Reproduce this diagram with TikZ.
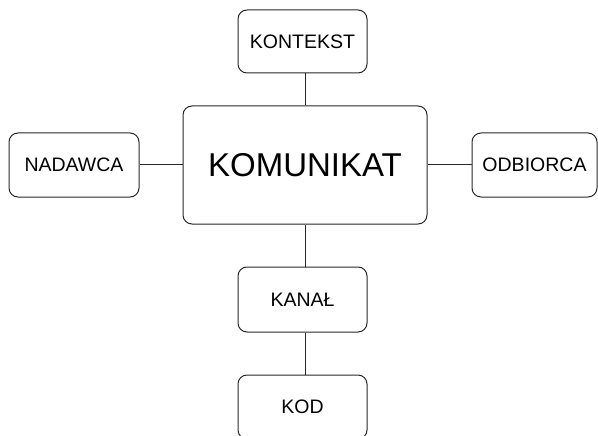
\documentclass[tikz,border=0pt]{standalone}
\usepackage{fontspec}
\setmainfont{Liberation Sans}
\definecolor{ln}{RGB}{40, 40, 40}
\usetikzlibrary{positioning}

\begin{document}
\begin{tikzpicture}[box/.style={rectangle, rounded corners=9pt, draw=ln, line width=1pt, fill=white, inner sep=0pt, font=\fontsize{19.5}{22}\selectfont}]
\useasboundingbox (0pt, 0pt) rectangle (598pt, -436pt);
\node (komunikat) [box, minimum width=244pt, minimum height=118pt, font=\fontsize{33}{38}\selectfont] at (305.0pt, -165.0pt) {KOMUNIKAT};
\node (kontekst) [box, minimum width=129pt, minimum height=63pt] at (302.5pt, -41.5pt) {KONTEKST};
\node (nadawca) [box, minimum width=130pt, minimum height=64pt] at (74.0pt, -165.0pt) {NADAWCA};
\node (odbiorca) [box, minimum width=125pt, minimum height=64pt] at (534.5pt, -165.0pt) {ODBIORCA};
\node (kanal) [box, minimum width=129pt, minimum height=65pt] at (302.5pt, -299.5pt) {KANAŁ};
\node (kod) [box, minimum width=129pt, minimum height=64pt] at (302.5pt, -407.0pt) {KOD};
\draw [line width=1pt, color=ln] (komunikat.north) to (komunikat.north |- kontekst.south);
\draw [line width=1pt, color=ln] (komunikat.west) to (nadawca.east);
\draw [line width=1pt, color=ln] (komunikat.east) to (odbiorca.west);
\draw [line width=1pt, color=ln] (komunikat.south) to (komunikat.south |- kanal.north);
\draw [line width=1pt, color=ln] (kanal.south -| komunikat.south) to (kod.north -| komunikat.south);
\end{tikzpicture}
\end{document}
